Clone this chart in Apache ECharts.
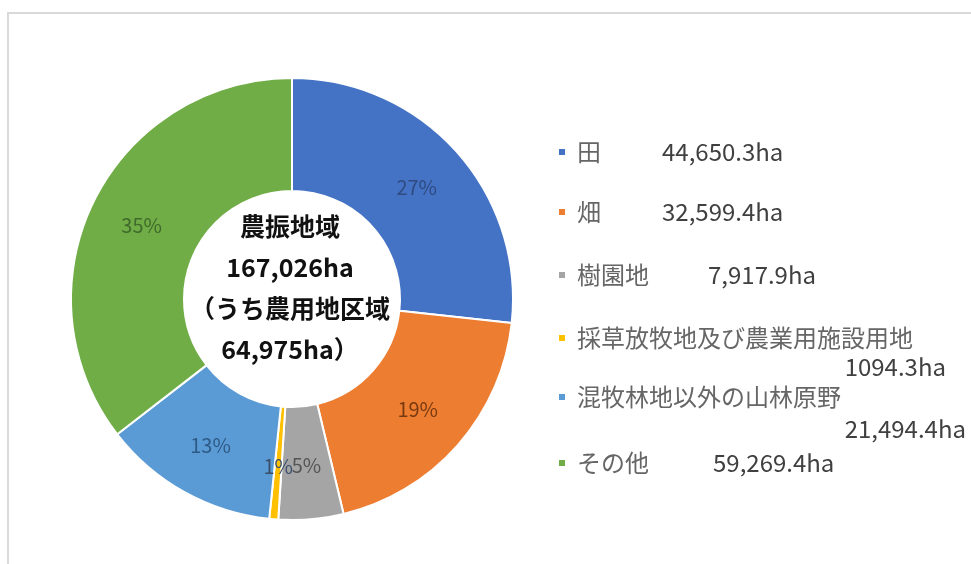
<!DOCTYPE html>
<html><head><meta charset="utf-8">
<script src="https://cdn.jsdelivr.net/npm/echarts@6/dist/echarts.min.js"></script>
<style>html,body{margin:0;padding:0;background:#fff}#c{width:971px;height:564px}</style>
</head><body><div id="c"></div>
<script>
const categories = ['田', '畑', '樹園地', '採草放牧地及び農業用施設用地', '混牧林地以外の山林原野', 'その他'];
const areas = [44650.3, 32599.4, 7917.9, 1094.3, 21494.4, 59269.4];
const areaLabels = ['44,650.3ha', '32,599.4ha', '7,917.9ha', '1094.3ha', '21,494.4ha', '59,269.4ha'];
const centerLines = ['農振地域', '167,026ha', '（うち農用地区域', '64,975ha）'];

// styles / layout
const sliceColors = ['#4472C4', '#ED7D31', '#A5A5A5', '#FFC000', '#5B9BD5', '#70AD47'];
const labelColors = ['#2F4B80', '#7A3A10', '#555555', '#3B4F6B', '#2E5A87', '#3F6A2A'];
const legendNameWidths = [85, 85, 131, 0, 0, 136];
const wrapWidths = [0, 0, 0, 375, 395, 0];
const wrapPads = [0, 0, 0, 4, 10, 0];
const legendIconY = [152, 212, 275, 338, 400, 463];
const FONT = "'Noto Sans CJK JP', 'Noto Sans', sans-serif";

const rich = {
  v: { fontSize: 24, color: '#404040', lineHeight: 24, fontFamily: FONT },
  m: { fontSize: 24, color: '#666666', lineHeight: 54, padding: [0, 0, 0, 6], fontFamily: FONT }
};
categories.forEach((c, i) => {
  rich['n' + i] = { fontSize: 24, color: '#666666', lineHeight: 24, width: legendNameWidths[i], padding: [0, 0, 0, 6], fontFamily: FONT };
  rich['e' + i] = { fontSize: 4, lineHeight: wrapPads[i] || 4, fontFamily: FONT };
  rich['w' + i] = { fontSize: 24, color: '#404040', lineHeight: wrapPads[i] || 4, width: wrapWidths[i], align: 'right', fontFamily: FONT };
});

const legends = categories.map((name, i) => ({
  orient: 'vertical', left: 557,
  top: wrapWidths[i] ? legendIconY[i] - 27 - wrapPads[i] : legendIconY[i] - 12,
  padding: 0, itemGap: 0,
  itemWidth: 8, itemHeight: 8, icon: 'rect', selectedMode: false,
  data: [name],
  formatter: function (n) {
    if (wrapWidths[i]) {
      return '{e' + i + '| }\n{m|' + n + '}\n{w' + i + '|' + areaLabels[i] + '}';
    }
    return '{n' + i + '|' + n + '}{v|' + areaLabels[i] + '}';
  },
  textStyle: { rich: rich, fontFamily: FONT }
}));

const chart = echarts.init(document.getElementById('c'));
chart.setOption({
  backgroundColor: '#ffffff',
  animation: false,
  graphic: [
    { type: 'rect', z: -10, silent: true, shape: { x: 8, y: 13, width: 1200, height: 800 },
      style: { fill: 'none', stroke: '#d9d9d9', lineWidth: 2 } },
    { type: 'text', z: 100, silent: true, x: 290, y: 288,
      style: { text: centerLines.join('\n'), fontSize: 25, fontWeight: 'bold', fontFamily: FONT,
               fill: '#111111', align: 'center', verticalAlign: 'middle', lineHeight: 41 } }
  ],
  legend: legends,
  series: [{
    type: 'pie',
    center: [292, 299],
    radius: [108, 221],
    startAngle: 90,
    clockwise: true,
    avoidLabelOverlap: false,
    percentPrecision: 0,
    itemStyle: { borderColor: '#ffffff', borderWidth: 2 },
    label: { show: true, position: 'inside', formatter: '{d}%', fontSize: 20, fontFamily: FONT },
    labelLayout: { hideOverlap: false },
    labelLine: { show: false },
    emphasis: { disabled: true },
    data: categories.map((n, i) => ({
      name: n, value: areas[i],
      itemStyle: { color: sliceColors[i] },
      label: { color: labelColors[i] }
    }))
  }]
});
</script></body></html>
